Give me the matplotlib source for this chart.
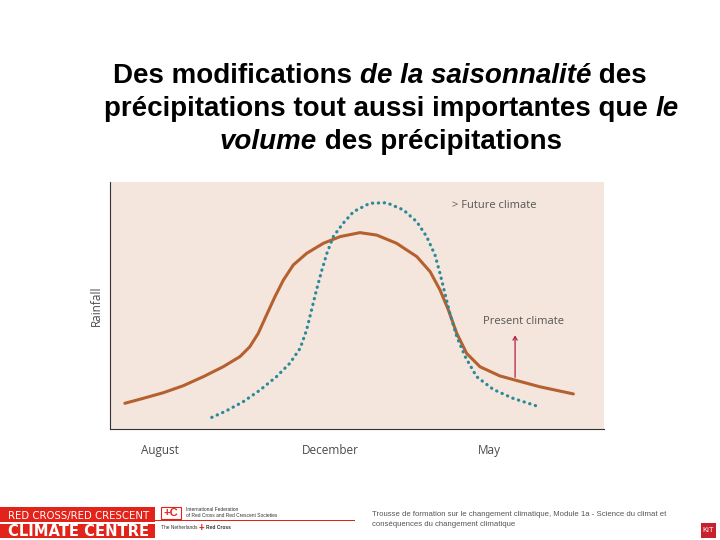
import matplotlib
matplotlib.use("Agg")
import matplotlib.pyplot as plt
from matplotlib.patches import Rectangle

plt.rcParams['font.family'] = ['Liberation Sans', 'DejaVu Sans']

# Present climate curve (solid), x and y in 0-100 units of the panel
present_x = [3.0, 6.7, 10.8, 14.8, 18.9, 22.9, 26.3, 28.3, 30.0, 31.7, 33.4, 35.1, 37.1,
             39.8, 43.2, 46.6, 50.6, 54.0, 58.0, 62.1, 64.8, 66.8, 68.5, 70.2, 72.2,
             74.9, 78.9, 82.0, 87.0, 93.8]
present_y = [10.4, 12.4, 14.7, 17.5, 21.2, 25.2, 29.3, 33.3, 38.7, 46.2, 53.6, 60.3, 66.4,
             71.1, 75.2, 77.9, 79.5, 78.5, 75.2, 69.8, 63.7, 56.3, 48.2, 38.7, 30.6,
             25.2, 21.5, 19.8, 17.1, 14.2]

# Future climate curve (dotted)
future_x = [20.6, 23.6, 27.0, 30.4, 33.7, 36.4, 38.5, 39.8, 40.8, 41.8, 42.9, 43.9, 45.2,
            47.2, 49.3, 52.6, 56.0, 59.4, 62.1, 64.1, 65.8, 66.8, 67.8, 68.8, 70.2,
            71.9, 74.2, 77.6, 81.6, 86.4]
future_y = [4.7, 7.4, 11.1, 15.8, 21.2, 26.6, 32.7, 40.1, 48.2, 56.3, 64.4, 71.1, 77.9,
            83.3, 88.0, 91.4, 91.6, 88.7, 83.9, 77.9, 70.4, 63.0, 54.9, 46.8, 37.4,
            29.3, 21.2, 16.0, 12.4, 9.3]

month_pos = [10.1, 44.7, 76.8]
month_labels = ["August", "December", "May"]

title_lines = [
    [("Des modifications ", "normal"), ("de la saisonnalité", "italic"), (" des", "normal")],
    [("précipitations tout aussi importantes que ", "normal"), ("le", "italic")],
    [("volume", "italic"), (" des précipitations", "normal")],
]
title_centers = [380, 391, 391]
title_y = [76, 109, 142]

footer_text = ["Trousse de formation sur le changement climatique, Module 1a - Science du climat et",
               "conséquences du changement climatique"]

W, H = 720, 540
fig = plt.figure(figsize=(7.2, 5.4), dpi=100)
fig.patch.set_facecolor("white")

# title made of normal and italic pieces, placed side by side
renderer = fig.canvas.get_renderer()
for segs, cx, ty in zip(title_lines, title_centers, title_y):
    pieces = []
    total = 0
    for txt, st in segs:
        t = fig.text(0, 0, txt, fontsize=20, fontstyle=st, fontweight="bold",
                     color="black", va="center")
        w = t.get_window_extent(renderer).width
        pieces.append((t, w))
        total += w
    x = cx - total / 2
    for t, w in pieces:
        t.set_position((x / W, 1 - ty / H))
        x += w

# chart panel
ax = fig.add_axes([110 / W, 1 - 429 / H, 494 / W, 247 / H])
ax.set_facecolor("#f4e6dc")
ax.plot(present_x, present_y, color="#b5602f", lw=2.2, solid_capstyle="round",
        solid_joinstyle="round")
ax.plot(future_x, future_y, color="#2a8a9a", lw=2.3, linestyle=(0, (0.1, 1.75)),
        dash_capstyle="round")
ax.set_xlim(0, 100)
ax.set_ylim(0, 100)
ax.set_xticks(month_pos)
ax.set_xticklabels(month_labels, fontsize=8.5, color="#4a4a4a", family="Open Sans")
ax.tick_params(axis="x", length=0, pad=11)
ax.set_yticks([])
ax.set_ylabel("Rainfall", fontsize=8.5, color="#4a4a4a", family="Open Sans", labelpad=5)
for s in ["top", "right"]:
    ax.spines[s].set_visible(False)
ax.spines["left"].set_color("#333333")
ax.spines["bottom"].set_color("#333333")
ax.spines["left"].set_linewidth(0.8)
ax.spines["bottom"].set_linewidth(0.8)

ax.text(69.2, 90.3, "> Future climate", fontsize=8, color="#555555", family="Open Sans",
        va="center")
ax.text(75.6, 43.4, "Present climate", fontsize=8, color="#555555", family="Open Sans",
        va="center")
ax.annotate("", xy=(82.0, 39.0), xytext=(82.0, 19.8),
            arrowprops=dict(arrowstyle="->,head_length=0.25,head_width=0.15",
                            color="#b0203a", lw=0.9))

# footer: banner
fig.patches.append(Rectangle((0, 1 - 538 / H), 155 / W, 31 / H, transform=fig.transFigure,
                             facecolor="#e2231a", edgecolor="none"))
fig.patches.append(Rectangle((0, 1 - 523.5 / H), 155 / W, 1.2 / H, transform=fig.transFigure,
                             facecolor="white", edgecolor="none"))
fig.patches.append(Rectangle((155 / W, 1 - 521 / H), 200 / W, 1.5 / H, transform=fig.transFigure,
                             facecolor="#e2231a", edgecolor="none"))
fig.text(8 / W, 1 - 516.5 / H, "RED CROSS/RED CRESCENT", fontsize=7.3, color="white",
         va="center", family="DejaVu Sans")
fig.text(8 / W, 1 - 531 / H, "CLIMATE CENTRE", fontsize=10.6, color="white",
         va="center", fontweight="bold", family="DejaVu Sans")

# IFRC logo
fig.patches.append(Rectangle((161 / W, 1 - 519 / H), 20 / W, 12 / H, transform=fig.transFigure,
                             facecolor="white", edgecolor="#e2231a", lw=0.8))
fig.text(163 / W, 1 - 513 / H, "+C", fontsize=8, color="#e2231a", va="center",
         fontweight="bold")
fig.text(186 / W, 1 - 509.5 / H, "International Federation", fontsize=3.5, color="#333333",
         va="center")
fig.text(186 / W, 1 - 515.5 / H, "of Red Cross and Red Crescent Societies", fontsize=3.5,
         color="#333333", va="center")
fig.text(161 / W, 1 - 527.5 / H, "The Netherlands", fontsize=3.5, color="#333333", va="center")
fig.text(199 / W, 1 - 527.5 / H, "+", fontsize=7, color="#e2231a", va="center",
         fontweight="bold")
fig.text(206 / W, 1 - 527.5 / H, "Red Cross", fontsize=3.5, color="#333333", va="center",
         fontweight="bold")

# footer text
fig.text(372 / W, 1 - 514 / H, footer_text[0], fontsize=5.6, color="#555555", va="center")
fig.text(372 / W, 1 - 524 / H, footer_text[1], fontsize=5.6, color="#555555", va="center")

# KIT icon
fig.patches.append(Rectangle((701 / W, 1 - 538 / H), 15 / W, 15 / H, transform=fig.transFigure,
                             facecolor="#c8202e", edgecolor="none"))
fig.text(708.5 / W, 1 - 531 / H, "KiT", fontsize=5.5, color="white", va="center", ha="center")

fig.savefig("out.png", dpi=100)
